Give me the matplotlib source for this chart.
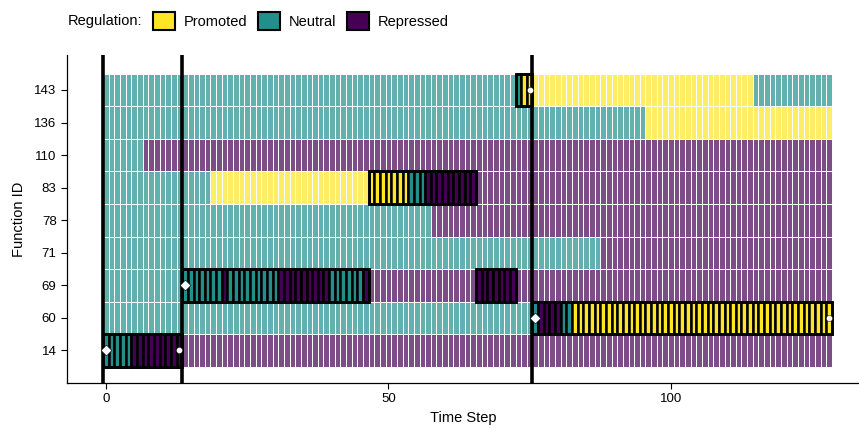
import numpy as np
from matplotlib import pyplot as plt
from matplotlib.colors import to_rgba
from matplotlib.patches import Patch

plt.rcParams["font.family"] = ["Liberation Sans", "DejaVu Sans"]

function_ids = ["14", "60", "69", "71", "78", "83", "110", "136", "143"]
n_steps = 129
states = ["Promoted", "Neutral", "Repressed"]
state_colors = {"Promoted": "#FDE725", "Neutral": "#21908C", "Repressed": "#440154"}

# regulation runs per function: (first step, last step, state)
runs = {
    "14":  [(0, 4, "Neutral"), (5, 128, "Repressed")],
    "60":  [(0, 76, "Neutral"), (77, 80, "Repressed"), (81, 82, "Neutral"), (83, 128, "Promoted")],
    "69":  [(0, 20, "Neutral"), (21, 21, "Repressed"), (22, 30, "Neutral"), (31, 39, "Repressed"),
            (40, 45, "Neutral"), (46, 128, "Repressed")],
    "71":  [(0, 87, "Neutral"), (88, 128, "Repressed")],
    "78":  [(0, 57, "Neutral"), (58, 128, "Repressed")],
    "83":  [(0, 18, "Neutral"), (19, 53, "Promoted"), (54, 56, "Neutral"), (57, 128, "Repressed")],
    "110": [(0, 6, "Neutral"), (7, 128, "Repressed")],
    "136": [(0, 95, "Neutral"), (96, 128, "Promoted")],
    "143": [(0, 73, "Neutral"), (74, 114, "Promoted"), (115, 128, "Neutral")],
}

# executed stretches: (function, first step, last step)
active = [("14", 0, 13), ("69", 14, 46), ("83", 47, 65), ("69", 66, 72), ("143", 73, 75), ("60", 76, 128)]
start_pts = [("14", 0), ("69", 14), ("60", 76)]
end_pts = [("14", 13), ("143", 75), ("60", 128)]
phase_lines = [-0.5, 13.5, 75.5]

fig = plt.figure(figsize=(8.59, 4.28), dpi=100)
ax = fig.add_axes([0.078, 0.105, 0.922, 0.767])

ypos = {f: i + 1 for i, f in enumerate(function_ids)}

# expand the runs into one tile per time step
grid = {}
for f in function_ids:
    row = []
    for a, b, s in runs[f]:
        row += [s] * (b - a + 1)
    grid[f] = row

is_active = {f: np.zeros(n_steps, bool) for f in function_ids}
for f, a, b in active:
    is_active[f][a:b + 1] = True

for f in function_ids:
    steps = np.arange(n_steps)
    cols = [state_colors[s] for s in grid[f]]
    bg = ~is_active[f]
    ax.bar(steps[bg], 1, bottom=ypos[f] - 0.5, width=1,
           color=[to_rgba(c, 0.7) for c, k in zip(cols, bg) if k],
           edgecolor="white", linewidth=0.7, zorder=1)
    fg = is_active[f]
    if fg.any():
        ax.bar(steps[fg], 1, bottom=ypos[f] - 0.5, width=1,
               color=[c for c, k in zip(cols, fg) if k],
               edgecolor="black", linewidth=1.8, zorder=2)

for f, a, b in active:
    ax.bar(a - 0.5, 1, bottom=ypos[f] - 0.5, width=b - a + 1, align="edge",
           fill=False, edgecolor="black", linewidth=2.0, zorder=3)

for x in phase_lines:
    ax.axvline(x, color="black", linewidth=2.6, zorder=4)

ax.scatter([t for f, t in start_pts], [ypos[f] for f, t in start_pts], marker="D",
           s=30, color="white", edgecolor="black", linewidth=0.4, zorder=5)
ax.scatter([t for f, t in end_pts], [ypos[f] for f, t in end_pts], marker="o",
           s=20, color="white", edgecolor="black", linewidth=0.3, zorder=5)

ax.set_xlim(-6.9, 133.3)
ax.set_ylim(0.0, 10.08)
ax.set_xticks([0, 50, 100])
ax.set_yticks(list(ypos.values()))
ax.set_yticklabels(function_ids)
ax.tick_params(labelsize=9.5, length=4, width=0.8, colors="black")
for side in ["top", "right"]:
    ax.spines[side].set_visible(False)
for side in ["left", "bottom"]:
    ax.spines[side].set_linewidth(0.9)

ax.set_xlabel("Time Step", fontsize=10.5, labelpad=4)
ax.set_ylabel("Function ID", fontsize=10.5, labelpad=6)

fig.text(68 / 859, 1 - 21 / 428, "Regulation:", fontsize=10.5, va="center")
handles = [Patch(facecolor=state_colors[s], edgecolor="black", linewidth=1.5) for s in states]
fig.legend(handles, states, loc="center left", bbox_to_anchor=(153 / 859, 1 - 21 / 428),
           ncol=3, frameon=False, fontsize=10.5, handlelength=1.5, handleheight=1.5,
           handletextpad=0.6, columnspacing=0.75, borderpad=0, borderaxespad=0)

plt.savefig("out.png", dpi=100)
